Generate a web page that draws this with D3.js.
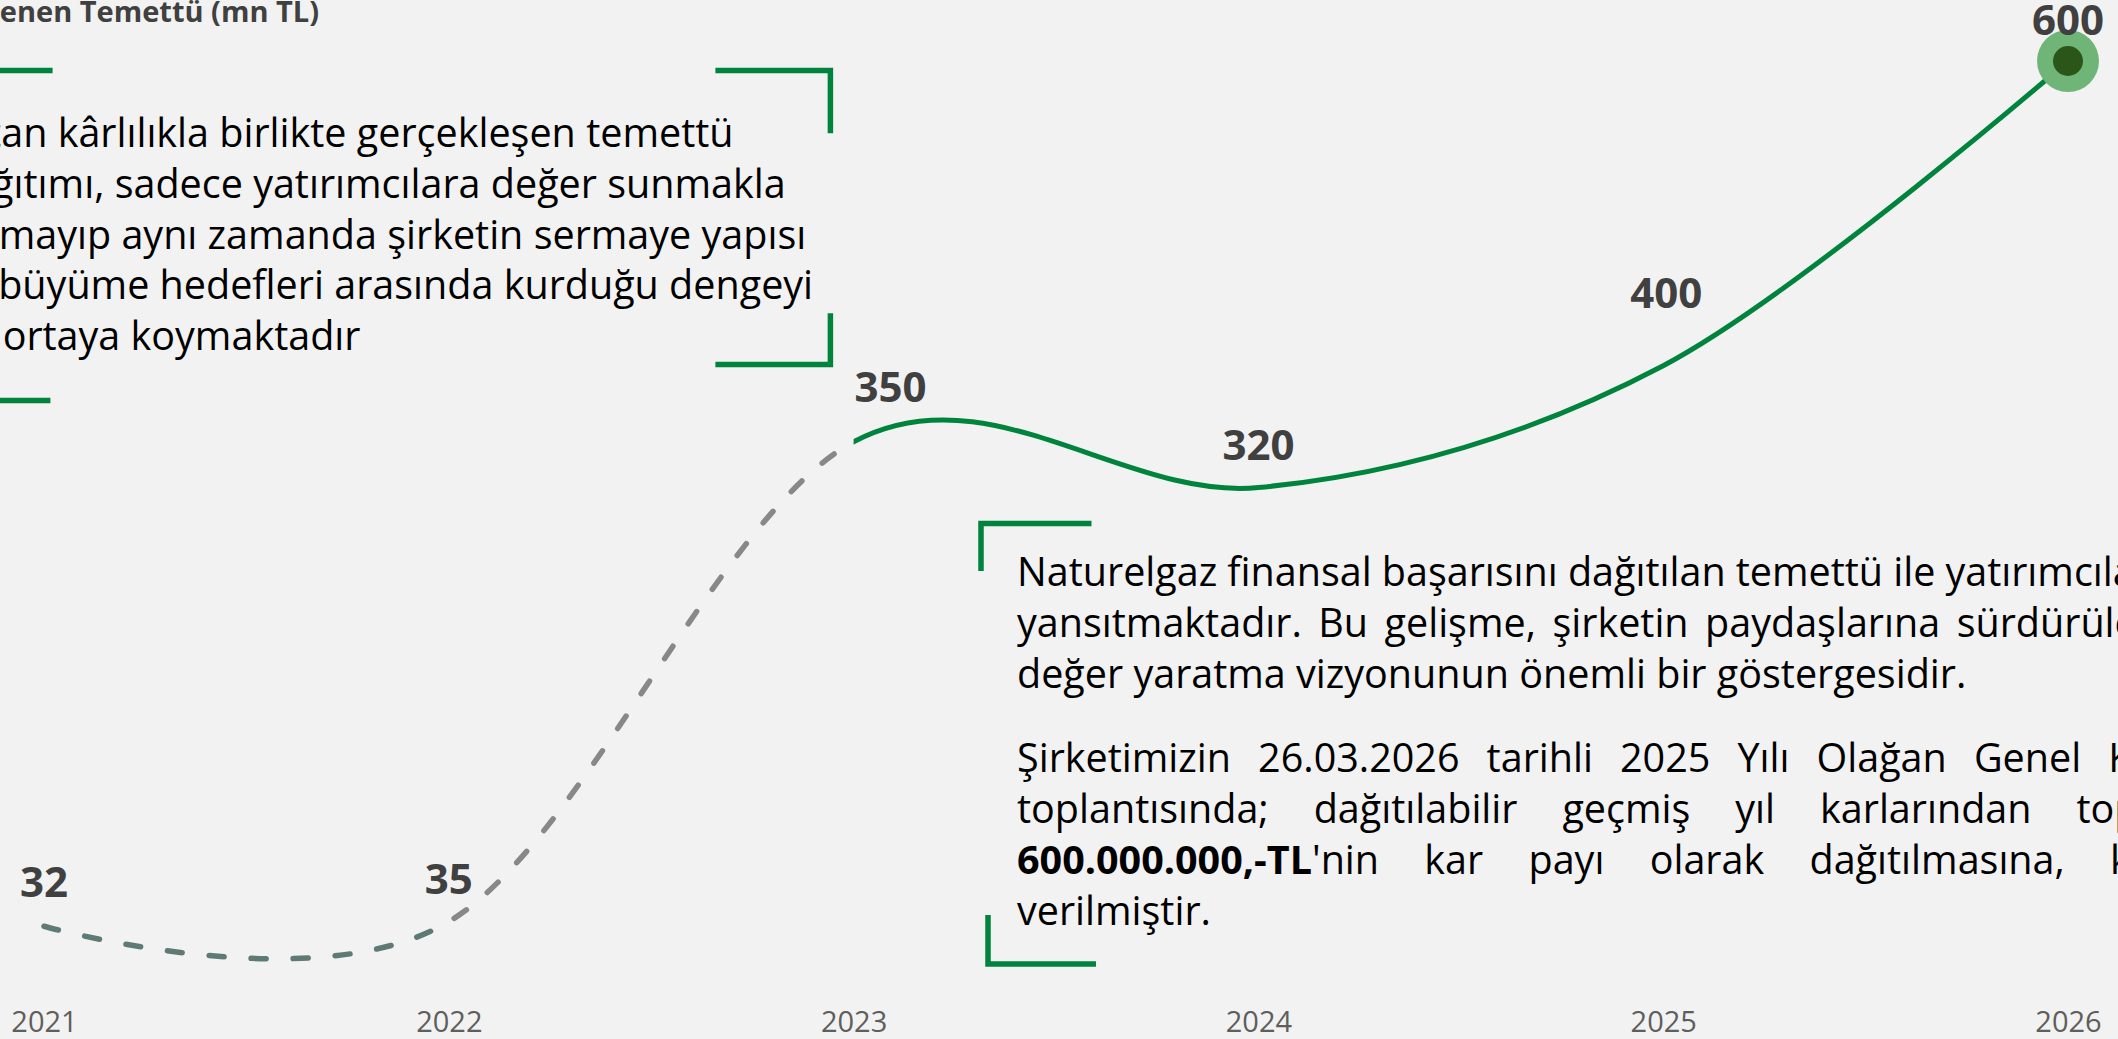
<!DOCTYPE html>
<html>
<head>
<meta charset="utf-8">
<script src="https://cdn.jsdelivr.net/npm/d3@7"></script>
<style>
    html, body { margin: 0; padding: 0; background: #f2f2f2; overflow: hidden; }
    svg { display: block; font-family: "Open Sans", "Noto Sans", sans-serif; }
</style>
</head>
<body>
<svg id="chart"></svg>
<script>
// data

var years = ["2021", "2022", "2023", "2024", "2025", "2026"];
var dividends = [32, 35, 350, 320, 400, 600];

var titleText = "Ödenen Temettü (mn TL)";

var leftLines = [
    "Artan kârlılıkla birlikte gerçekleşen temettü",
    "dağıtımı, sadece yatırımcılara değer sunmakla",
    "kalmayıp aynı zamanda şirketin sermaye yapısı",
    "ve büyüme hedefleri arasında kurduğu dengeyi",
    "de ortaya koymaktadır"
];

var rightLines = [
    "Naturelgaz finansal başarısını dağıtılan temettü ile yatırımcılarına",
    "yansıtmaktadır. Bu gelişme, şirketin paydaşlarına sürdürülebilir",
    "değer yaratma vizyonunun önemli bir göstergesidir.",
    "",
    "Şirketimizin 26.03.2026 tarihli 2025 Yılı Olağan Genel Kurul",
    "toplantısında; dağıtılabilir geçmiş yıl karlarından toplam",
    "**600.000.000,-TL**'nin kar payı olarak dağıtılmasına, karar",
    "verilmiştir."
];

// layout

var width = 2118,
    height = 1039,
    green = "#00843d",
    labelColor = "#404040",
    bodyFont = 39.5,
    labelFont = 42;

// label nudges (Power BI moves some labels off the line)
var labelShift = [[0, -29], [0, -28], [37, -40], [0, -28], [3, -58], [0, -26]];

var svg = d3.select("#chart")
    .attr("width", width)
    .attr("height", height);

svg.append("rect")
    .attr("width", width)
    .attr("height", height)
    .attr("fill", "#f2f2f2");

var x = d3.scalePoint()
    .domain(years)
    .range([44, 2068]);

var y = d3.scaleLinear()
    .domain([0, 600])
    .range([975, 61]);

var points = years.map(function (yr, i) {
    return { year: yr, value: dividends[i] };
});

// clip regions for the three line styles
var defs = svg.append("defs");
var segs = [
    { id: "seg1", x0: 0, x1: x("2022"), stroke: "#5e7a74", dash: "15,27" },
    { id: "seg2", x0: x("2022"), x1: x("2023"), stroke: "#888888", dash: "15,27" },
    { id: "seg3", x0: x("2023"), x1: width, stroke: green, dash: null }
];

segs.forEach(function (s) {
    defs.append("clipPath").attr("id", s.id)
        .append("rect")
        .attr("x", s.x0)
        .attr("y", 0)
        .attr("width", s.x1 - s.x0)
        .attr("height", height);
});

var line = d3.line()
    .x(function (d) { return x(d.year); })
    .y(function (d) { return y(d.value); })
    .curve(d3.curveCardinal);

segs.forEach(function (s) {
    svg.append("path")
        .datum(points)
        .attr("clip-path", "url(#" + s.id + ")")
        .attr("d", line)
        .attr("fill", "none")
        .attr("stroke", s.stroke)
        .attr("stroke-width", s.dash ? 5.5 : 5)
        .attr("stroke-linecap", s.dash ? "round" : "butt")
        .attr("stroke-dasharray", s.dash);
});

// last point marker
var last = points[points.length - 1];
svg.append("circle")
    .attr("cx", x(last.year))
    .attr("cy", y(last.value))
    .attr("r", 31)
    .attr("fill", "#6fb577");
svg.append("circle")
    .attr("cx", x(last.year))
    .attr("cy", y(last.value))
    .attr("r", 15)
    .attr("fill", "#2a5719");

// data labels
svg.append("g").selectAll("text")
    .data(points)
    .enter()
    .append("text")
    .attr("x", function (d, i) { return x(d.year) + labelShift[i][0]; })
    .attr("y", function (d, i) { return y(d.value) + labelShift[i][1]; })
    .attr("text-anchor", "middle")
    .style("font-size", labelFont + "px")
    .style("font-weight", 700)
    .attr("fill", labelColor)
    .text(function (d) { return d.value; });

// x axis
var xAxis = svg.append("g")
    .attr("transform", "translate(0,1032)")
    .call(d3.axisBottom(x).tickSize(0).tickPadding(0));

xAxis.select(".domain").remove();
xAxis.selectAll("text")
    .attr("dy", 0)
    .attr("fill", "#605e5c")
    .style("font-size", "29px")
    .style("font-family", "'Open Sans', sans-serif");

// title (cut at the left edge like the report)
svg.append("text")
    .attr("x", 319)
    .attr("y", 22)
    .attr("text-anchor", "end")
    .style("font-size", "29px")
    .style("font-weight", 700)
    .attr("fill", labelColor)
    .text(titleText);

// bracket corners
var brackets = [
    "M-10,70.5 H52.6",
    "M-10,400.5 H50.4",
    "M715.4,70.5 H830.4 V133.3",
    "M830.4,313.3 V364.5 H715.4",
    "M1091.5,523.5 H981 V571",
    "M988,915 V964 H1096"
];

svg.append("g").selectAll("path")
    .data(brackets)
    .enter()
    .append("path")
    .attr("d", function (d) { return d; })
    .attr("fill", "none")
    .attr("stroke", green)
    .attr("stroke-width", 5.5)
    .attr("stroke-linejoin", "miter");

// text blocks, word by word so lines can be justified
function writeLines(lines, x0, right, y0, lineH, paraGap) {
    var g = svg.append("g")
        .style("font-size", bodyFont + "px")
        .attr("fill", "#000");
    var yy = y0;

    lines.forEach(function (ln, i) {
        if (ln === "") {
            yy += paraGap;
            return;
        }
        var justify = right && i < lines.length - 1 && lines[i + 1] !== "";
        var words = ln.split(" ");
        var nodes = words.map(function (w) {
            var t = g.append("text").attr("x", 0).attr("y", yy);
            w.split("**").forEach(function (part, k) {
                if (part === "") return;
                t.append("tspan")
                    .style("font-weight", k % 2 ? 700 : 400)
                    .text(part);
            });
            return t;
        });
        var widths = nodes.map(function (t) { return t.node().getComputedTextLength(); });
        var space = bodyFont * 0.26;
        if (justify) {
            space = (right - x0 - d3.sum(widths)) / (words.length - 1);
        }
        var cx = x0;
        nodes.forEach(function (t, k) {
            t.attr("x", cx);
            cx += widths[k] + space;
        });
        yy += lineH;
    });
    return g;
}

writeLines(leftLines, -54, null, 147, 50.8, 0);
writeLines(rightLines, 1017, 2207, 586, 51, 33);
</script>
</body>
</html>
